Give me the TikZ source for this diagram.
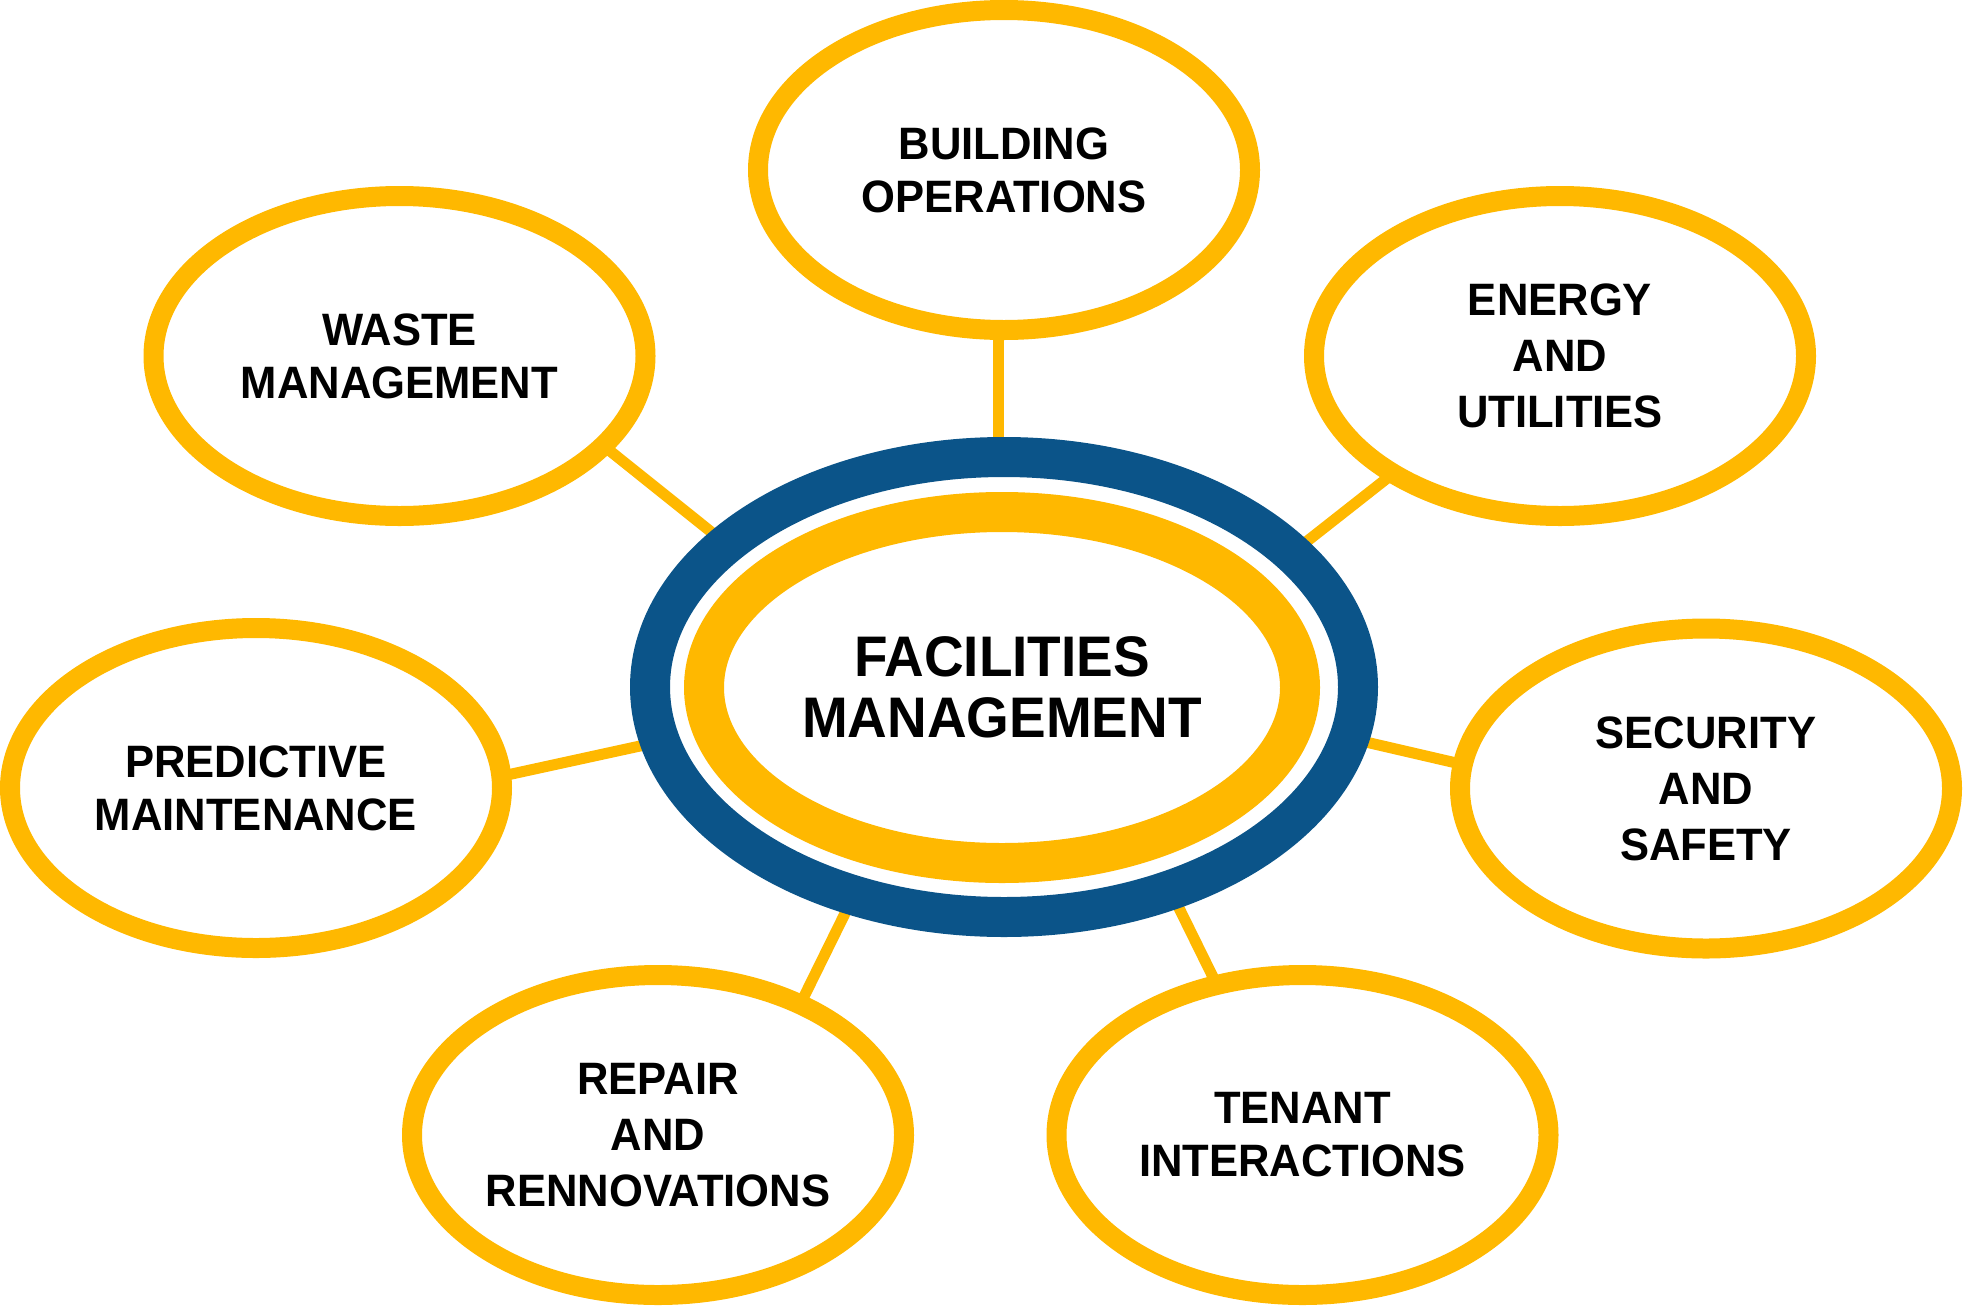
\documentclass[tikz,border=0pt]{standalone}
\usepackage{fontspec}
\newfontfamily\lblfont{Liberation Sans}[FakeStretch=0.96]
\usetikzlibrary{shapes.geometric,backgrounds,calc}
\definecolor{fmyellow}{HTML}{FFB800}
\definecolor{fmblue}{HTML}{0B5489}
\begin{document}
\begin{tikzpicture}[x=0.5pt,y=-0.5pt,
  sat/.style={ellipse, draw=fmyellow, line width=10pt, fill=white,
    minimum width=246pt, minimum height=160pt, inner sep=0pt, align=center,
    font=\lblfont\bfseries\fontsize{22.7pt}{26.5pt}\selectfont},
  satthree/.style={sat, font=\lblfont\bfseries\fontsize{22.7pt}{28pt}\selectfont},
  hubring/.style={ellipse, draw=fmblue, line width=20pt, fill=white,
    minimum width=354pt, minimum height=230pt, inner sep=0pt},
  corering/.style={ellipse, draw=fmyellow, line width=20pt, fill=white,
    minimum width=298pt, minimum height=175.5pt, inner sep=0pt, align=center,
    font=\lblfont\bfseries\fontsize{28.6pt}{30.25pt}\selectfont},
  link/.style={draw=fmyellow, line width=5.5pt, shorten <=-4pt, shorten >=-4pt}
]
\useasboundingbox (0,0) rectangle (1964,1306);

\node[hubring] (hub) at (1004,687) {};
\node[corering] (core) at (1002,687.5) {FACILITIES\\MANAGEMENT};

\node[sat] (build) at (1004,170) {BUILDING\\OPERATIONS};
\node[sat] (waste) at (399.5,356) {WASTE\\MANAGEMENT};
\node[satthree] (energy) at (1560,356) {ENERGY\\AND\\UTILITIES};
\node[sat] (predict) at (256,788) {PREDICTIVE\\MAINTENANCE};
\node[satthree] (secur) at (1706,788.5) {SECURITY\\AND\\SAFETY};
\node[satthree] (repair) at (658,1135) {REPAIR\\AND\\RENNOVATIONS};
\node[sat] (tenant) at (1302.5,1135) {TENANT\\INTERACTIONS};

\begin{scope}[on background layer]
  \draw[link] ($(build.center)+(-6,169)$) -- ($(hub.center)+(-6,-250)$);
  \draw[link] ($(waste.center)+(212.2,96.3)$) -- ($(hub.center)+(-294,-156)$);
  \draw[link] ($(energy.center)+(-176,124.7)$) -- ($(hub.center)+(305,-147.3)$);
  \draw[link] ($(predict.center)+(255.7,-14)$) -- ($(hub.center)+(-364,59)$);
  \draw[link] ($(secur.center)+(-254,-26.5)$) -- ($(hub.center)+(366,56)$);
  \draw[link] ($(repair.center)+(146.8,-140)$) -- ($(hub.center)+(-159,226.4)$);
  \draw[link] ($(tenant.center)+(-90.5,-160)$) -- ($(hub.center)+(175,221)$);
\end{scope}
\end{tikzpicture}
\end{document}
